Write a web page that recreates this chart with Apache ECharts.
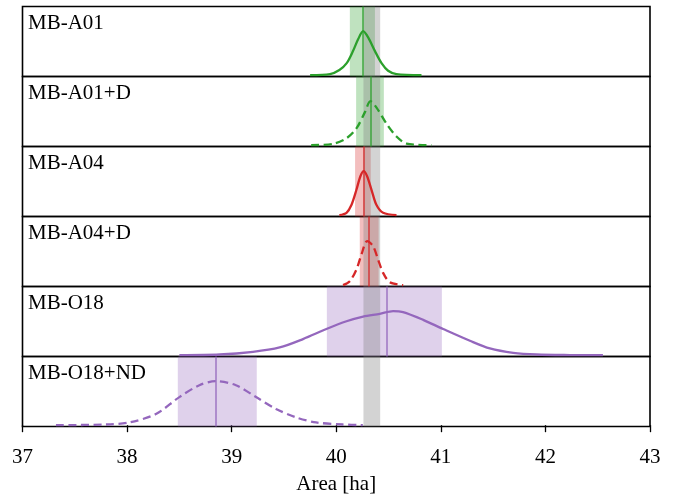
<!DOCTYPE html>
<html>
<head>
<meta charset="utf-8">
<script src="https://cdn.jsdelivr.net/npm/echarts@6/dist/echarts.min.js"></script>
<style>
  html, body { margin: 0; padding: 0; background: #fff; }
  #chart { width: 675px; height: 497px; }
</style>
</head>
<body>
<div id="chart"></div>
<script>
// Posterior area estimates per model run, one panel each.
const panelNames = ['MB-A01', 'MB-A01+D', 'MB-A04', 'MB-A04+D', 'MB-O18', 'MB-O18+ND'];

// Reference (surveyed) area interval, shown in every panel.
const refBand = [40.26, 40.42];

// Credible interval bounds and medians per run [ha].
const ciLow   = [40.13, 40.19, 40.18, 40.225, 39.91, 38.485];
const ciHigh  = [40.37, 40.455, 40.33, 40.405, 41.01, 39.24];
const medians = [40.25, 40.325, 40.26, 40.315, 40.475, 38.855];

// Density curves (peak-normalised), [area, density].
const kdeA01 = [[39.75,0],[39.94,0.023],[40.03,0.117],[40.10,0.273],[40.16,0.547],[40.21,0.82],
  [40.257,1.0],[40.305,0.86],[40.37,0.547],[40.433,0.273],[40.496,0.10],[40.576,0.023],[40.815,0]];
const kdeA01D = [[39.76,0],[39.97,0.03],[40.10,0.16],[40.193,0.38],[40.273,0.745],[40.327,1.0],
  [40.385,0.854],[40.48,0.489],[40.576,0.197],[40.672,0.036],[40.91,0]];
const kdeA04 = [[40.03,0],[40.098,0.054],[40.145,0.23],[40.193,0.577],[40.231,0.885],[40.263,1.0],
  [40.295,0.885],[40.337,0.577],[40.385,0.23],[40.448,0.054],[40.576,0]];
const kdeA04D = [[40.065,0],[40.129,0.09],[40.193,0.356],[40.241,0.697],[40.295,1.0],[40.352,0.886],
  [40.40,0.583],[40.448,0.28],[40.512,0.068],[40.64,0]];
const kdeO18 = [[38.50,0],[38.885,0.015],[39.204,0.076],[39.459,0.176],[39.682,0.366],[39.906,0.595],
  [40.098,0.771],[40.257,0.878],[40.416,0.939],[40.544,1.0],[40.639,0.977],[40.831,0.802],
  [41.022,0.595],[41.278,0.328],[41.469,0.153],[41.692,0.053],[41.916,0.015],[42.234,0.003],[42.55,0]];
const kdeO18ND = [[37.32,0],[37.797,0.015],[38.021,0.062],[38.276,0.254],[38.50,0.638],[38.691,0.908],
  [38.85,1.0],[39.041,0.908],[39.233,0.638],[39.424,0.369],[39.615,0.177],[39.807,0.062],
  [40.062,0.015],[40.254,0]];
const kdeCurves = [kdeA01, kdeA01D, kdeA04, kdeA04D, kdeO18, kdeO18ND];

// X axis ticks.
const xMin = 37, xMax = 43, xStep = 1;

// Styling per panel.
const palette = {
  green:  { line: '#2ca02c', band: 'rgba(44,160,44,0.3)' },
  red:    { line: '#d62728', band: 'rgba(214,39,40,0.3)' },
  purple: { line: '#9467bd', band: 'rgba(148,103,189,0.3)' }
};
const panelStyle = [
  { c: palette.green,  dashed: false },
  { c: palette.green,  dashed: true },
  { c: palette.red,    dashed: false },
  { c: palette.red,    dashed: true },
  { c: palette.purple, dashed: false },
  { c: palette.purple, dashed: true }
];

const FONT = 'Liberation Serif';
const PANEL_TOP = 6.5, PANEL_H = 70, LEFT = 22.5, RIGHT = 25;
const n = panelNames.length;

const grids = [], xAxes = [], yAxes = [], series = [], titles = [];
for (let i = 0; i < n; i++) {
  const last = i === n - 1;
  const st = panelStyle[i];
  grids.push({
    left: LEFT, right: RIGHT, top: PANEL_TOP + PANEL_H * i, height: PANEL_H,
    show: true, borderColor: '#000', borderWidth: 1.6, backgroundColor: 'transparent'
  });
  xAxes.push({
    type: 'value', gridIndex: i, min: xMin, max: xMax, interval: xStep,
    axisLine: { show: false },
    axisTick: { show: last, length: 7, lineStyle: { color: '#000', width: 1.3 } },
    axisLabel: { show: last, margin: 20, color: '#000', fontFamily: FONT, fontSize: 21 },
    splitLine: { show: false },
    name: last ? 'Area [ha]' : '',
    nameLocation: 'middle', nameGap: 47,
    nameTextStyle: { color: '#000', fontFamily: FONT, fontSize: 21 }
  });
  yAxes.push({ type: 'value', gridIndex: i, min: -0.03, max: 1.56, show: false });

  // Interval bands and median line
  series.push({
    type: 'line', xAxisIndex: i, yAxisIndex: i, data: [], silent: true, z: 1,
    markArea: {
      silent: true,
      data: [
        [{ xAxis: ciLow[i], itemStyle: { color: st.c.band } }, { xAxis: ciHigh[i] }],
        [{ xAxis: refBand[0], itemStyle: { color: 'rgba(128,128,128,0.35)' } }, { xAxis: refBand[1] }]
      ]
    },
    markLine: {
      silent: true, symbol: ['none', 'none'], label: { show: false },
      lineStyle: { color: st.c.line, width: 2, type: 'solid', opacity: 0.65 },
      data: [{ xAxis: medians[i] }]
    }
  });
  // Density curve
  series.push({
    type: 'line', xAxisIndex: i, yAxisIndex: i, data: kdeCurves[i], z: 3,
    showSymbol: false, smooth: 0.3,
    lineStyle: { color: st.c.line, width: 2.3, type: st.dashed ? [8, 4.5] : 'solid' }
  });

  titles.push({
    text: panelNames[i], left: 28, top: PANEL_TOP + PANEL_H * i + 6,
    padding: 0,
    textStyle: { color: '#000', fontFamily: FONT, fontSize: 21, fontWeight: 'normal' }
  });
}

const chart = echarts.init(document.getElementById('chart'), null, { renderer: 'canvas' });
chart.setOption({
  animation: false,
  backgroundColor: '#fff',
  title: titles,
  grid: grids,
  xAxis: xAxes,
  yAxis: yAxes,
  series: series
});
</script>
</body>
</html>
